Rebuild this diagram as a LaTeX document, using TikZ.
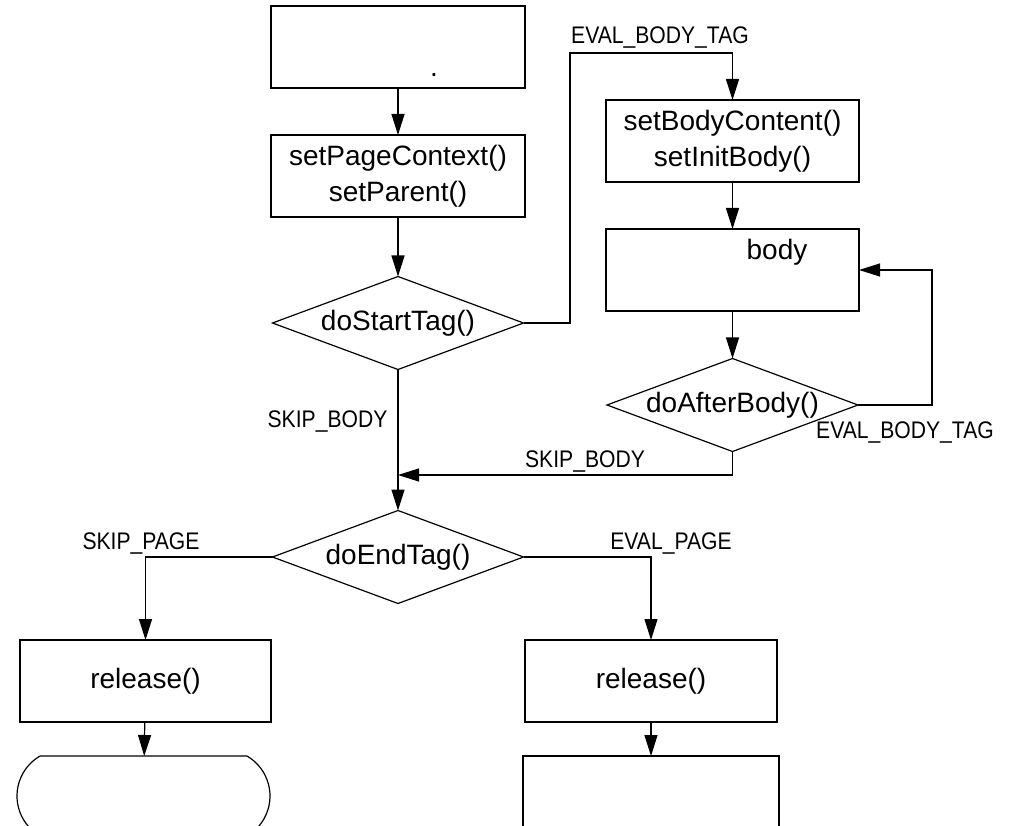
\documentclass[tikz,border=0pt]{standalone}
\usepackage{fontspec}
\setmainfont{Liberation Sans}
\newfontfamily\lblfam[FakeStretch=0.88]{Liberation Sans}
\usetikzlibrary{arrows.meta,shapes.geometric,shapes.misc}
\tikzset{
  every node/.style={inner sep=0pt, outer sep=0pt},
  mainfont/.style={font=\fontsize{28}{36}\selectfont},
  box/.style={draw, line width=1.2pt, rectangle, minimum width=254pt, minimum height=82pt, align=center, mainfont},
  dia/.style={draw, line width=1.2pt, diamond, aspect=2.7, minimum width=251pt, minimum height=93pt, mainfont},
  term/.style={draw, line width=1.2pt, rounded rectangle, rounded rectangle arc length=120, minimum width=253pt, minimum height=80pt},
  conn/.style={line width=1.2pt, -{Triangle[length=21pt,width=13pt]}},
  lbl/.style={font=\lblfam\fontsize{24}{28}\selectfont, anchor=base}
}
\begin{document}
\begin{tikzpicture}[x=1pt,y=-1pt]
\useasboundingbox (0,0) rectangle (1012,826);
\clip (0,0) rectangle (1012,826);
% nodes
\node[box] (top) at (398,47) {};
\node[mainfont, anchor=base] (dot) at (434,77) {.};
\node[box] (ctx) at (398,176) {setPageContext()\\setParent()};
\node[dia] (ds) at (398,323) {doStartTag()};
\node[box, minimum width=253pt] (bc) at (732.5,141) {setBodyContent()\\setInitBody()};
\node[box, minimum width=253pt] (bd) at (732.5,270) {};
\node[mainfont] (bodylbl) at (777,252) {body};
\node[dia] (da) at (732.5,405) {doAfterBody()};
\node[dia] (de) at (398,557) {doEndTag()};
\node[box, minimum width=251pt] (rl) at (145.5,681) {release()};
\node[box, minimum width=252pt] (rr) at (651,681) {release()};
\node[term] (tl) at (143.5,796) {};
\node[box, minimum width=256pt, minimum height=90pt] (tr) at (651,801) {};
% coordinates
\coordinate (e1) at (570,53);
\coordinate (l1) at (932,270);
\coordinate (j1) at (398,475);
% connectors
\draw[conn] (top) -- (ctx);
\draw[conn] (ctx) -- (ds);
\draw[conn] (ds.east) -| (e1) -| (bc.north);
\draw[conn] (bc) -- (bd);
\draw[conn] (bd) -- (da);
\draw[conn] (da.east) -| (l1) -- (bd.east);
\draw[conn] (da.south) |- (j1);
\draw[conn] (ds.south) -- (de.north);
\draw[conn] (de.west) -| (rl.north);
\draw[conn] (de.east) -| (rr.north);
\draw[conn] (rl) -- (tl);
\draw[conn] (rr) -- (tr);
% labels
\node[lbl] (t1) at (660,44) {EVAL\_BODY\_TAG};
\node[lbl] (t2) at (327.5,427) {SKIP\_BODY};
\node[lbl] (t3) at (585,467) {SKIP\_BODY};
\node[lbl] (t4) at (905,438) {EVAL\_BODY\_TAG};
\node[lbl] (t5) at (141,549) {SKIP\_PAGE};
\node[lbl] (t6) at (671,549) {EVAL\_PAGE};
\end{tikzpicture}
\end{document}
